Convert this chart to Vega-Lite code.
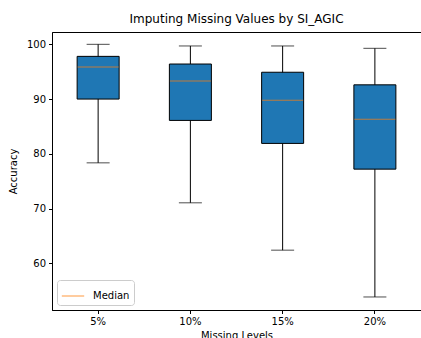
{
  "$schema": "https://vega.github.io/schema/vega-lite/v6.json",
  "width": 369,
  "height": 278,
  "autosize": {"type": "none"},
  "padding": {"left": 52, "top": 32, "right": 0, "bottom": 28},
  "background": "white",
  "title": {
    "text": "Imputing Missing Values by SI_AGIC",
    "font": "DejaVu Sans",
    "fontSize": 12,
    "fontWeight": "normal",
    "color": "black",
    "anchor": "middle",
    "offset": 6
  },
  "config": {
    "view": {"stroke": "black", "strokeWidth": 1},
    "axis": {
      "labelFont": "DejaVu Sans",
      "labelFontSize": 10,
      "labelColor": "black",
      "titleFont": "DejaVu Sans",
      "titleFontSize": 10,
      "titleFontWeight": "normal",
      "titleColor": "black",
      "domainColor": "black",
      "tickColor": "black",
      "tickSize": 3.5,
      "grid": false
    },
    "legend": {
      "labelFont": "DejaVu Sans",
      "labelFontSize": 10,
      "labelColor": "black",
      "strokeColor": "#cccccc",
      "fillColor": "white",
      "cornerRadius": 3,
      "padding": 4
    }
  },
  "data": {
    "values": [
      {"level": "5%", "min": 78.35, "q1": 90.0, "median": 95.85, "q3": 97.8, "max": 100.0, "label": "Median"},
      {"level": "10%", "min": 71.05, "q1": 86.1, "median": 93.3, "q3": 96.4, "max": 99.7, "label": "Median"},
      {"level": "15%", "min": 62.4, "q1": 81.9, "median": 89.8, "q3": 94.9, "max": 99.7, "label": "Median"},
      {"level": "20%", "min": 53.85, "q1": 77.2, "median": 86.3, "q3": 92.6, "max": 99.27, "label": "Median"}
    ]
  },
  "encoding": {
    "x": {
      "field": "level",
      "type": "ordinal",
      "sort": ["5%", "10%", "15%", "20%"],
      "scale": {"paddingInner": 0, "paddingOuter": 0},
      "axis": {"labelAngle": 0, "title": "Missing Levels", "labelPadding": 3, "titlePadding": 4}
    }
  },
  "layer": [
    {
      "mark": {"type": "rule", "color": "black", "strokeWidth": 1},
      "encoding": {
        "y": {
          "field": "min",
          "type": "quantitative",
          "scale": {"domain": [51.47, 102.25], "nice": false, "zero": false},
          "axis": {"values": [60, 70, 80, 90, 100], "title": "Accuracy", "labelPadding": 3, "titlePadding": 8}
        },
        "y2": {"field": "max"}
      }
    },
    {
      "mark": {"type": "tick", "color": "black", "size": 23, "thickness": 1, "orient": "horizontal"},
      "encoding": {"y": {"field": "min", "type": "quantitative"}}
    },
    {
      "mark": {"type": "tick", "color": "black", "size": 23, "thickness": 1, "orient": "horizontal"},
      "encoding": {"y": {"field": "max", "type": "quantitative"}}
    },
    {
      "mark": {"type": "bar", "fill": "#1f77b4", "stroke": "black", "strokeWidth": 1, "size": 42},
      "encoding": {
        "y": {"field": "q1", "type": "quantitative"},
        "y2": {"field": "q3"}
      }
    },
    {
      "mark": {"type": "tick", "size": 41, "thickness": 1, "orient": "horizontal"},
      "encoding": {
        "y": {"field": "median", "type": "quantitative"},
        "color": {
          "field": "label",
          "type": "nominal",
          "scale": {"domain": ["Median"], "range": ["#ff7f0e"]},
          "legend": {
            "title": null,
            "orient": "bottom-left",
            "offset": 5,
            "symbolType": "stroke",
            "symbolSize": 500,
            "symbolStrokeWidth": 1.5,
            "symbolStrokeColor": "#ff9f4a",
            "labelOffset": 8
          }
        }
      }
    }
  ]
}
